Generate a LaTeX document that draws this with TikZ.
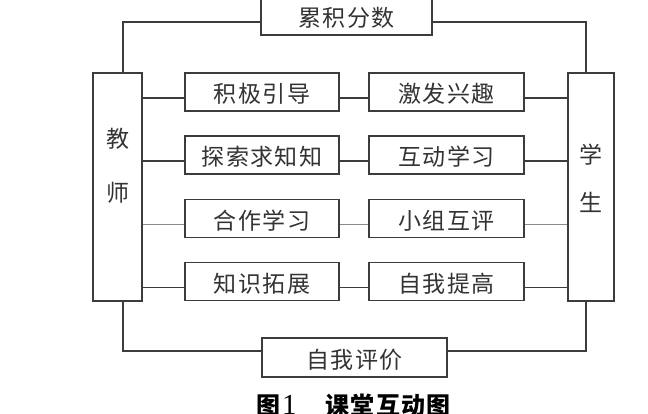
\documentclass[tikz,border=0pt]{standalone}
\usepackage{fontspec}
\newfontfamily\cjk[LetterSpace=6]{Noto Sans CJK SC}
\newfontfamily\cjkcap[LetterSpace=5]{Noto Sans CJK SC}
\newfontfamily\capdigit{Liberation Serif}
\definecolor{ln}{HTML}{3C3C3C}
\definecolor{lnlight}{HTML}{8A8A8A}
\begin{document}
\begin{tikzpicture}[x=1pt,y=-1pt,
  box/.style={draw=ln, line width=1.4pt, inner sep=0pt, font=\cjk\fontsize{23}{27}\selectfont, text=black!80,
     text height=22pt, text depth=0pt},
  cellbox/.style={box, minimum width=154pt, minimum height=38pt},
  sidebox/.style={draw=ln, line width=1.4pt, inner sep=0pt, minimum height=228pt},
  sidelabel/.style={text=black!80, align=center},
  conn/.style={draw=ln, line width=1.4pt},
  connlight/.style={draw=lnlight, line width=1.1pt},
  frame/.style={draw=ln, line width=1.1pt}
]
\fill[white] (0,0) rectangle (648,414);
\useasboundingbox (0,0) rectangle (648,414);

% side boxes
\node[sidebox, minimum width=49pt,
  label={[sidelabel, yshift=21pt, font=\cjk\fontsize{23}{54}\selectfont]center:教\\师}] (J) at (117.5,187) {};
\node[sidebox, minimum width=46pt,
  label={[sidelabel, yshift=9pt, font=\cjk\fontsize{23}{48}\selectfont]center:学\\生}] (S) at (591,187) {};

% top and bottom boxes
\node[box, minimum width=171pt, minimum height=39pt] (T) at (346.5,15.5) {累积分数};
\node[box, minimum width=185pt, minimum height=39pt] (B) at (354.5,357.5) {自我评价};

% left column
\node[cellbox] (L1) at (262,92) {积极引导};
\node[cellbox] (L2) at (262,155) {探索求知知};
\node[cellbox] (L3) at (262,218.5) {合作学习};
\node[cellbox] (L4) at (262,281.5) {知识拓展};
% right column
\node[cellbox, minimum width=155pt] (R1) at (446.5,92) {激发兴趣};
\node[cellbox, minimum width=155pt] (R2) at (446.5,155) {互动学习};
\node[cellbox, minimum width=155pt] (R3) at (446.5,218.5) {小组互评};
\node[cellbox, minimum width=155pt] (R4) at (446.5,281.5) {自我提高};

% connector anchor points (slightly below box centres)
\foreach \i in {1,...,4} {
  \coordinate (a\i) at ([yshift=-6pt]L\i.west);
  \coordinate (b\i) at ([yshift=-6pt]L\i.east);
  \coordinate (c\i) at ([yshift=-6pt]R\i.west);
  \coordinate (d\i) at ([yshift=-6pt]R\i.east);
}
\foreach \i in {1,2,4} {
  \draw[conn] (J.east |- a\i) -- (a\i);
  \draw[conn] (b\i) -- (c\i);
  \draw[conn] (d\i) -- (S.west |- d\i);
}
\draw[connlight] (J.east |- a3) -- (a3);
\draw[connlight] (b3) -- (c3);
\draw[connlight] (d3) -- (S.west |- d3);

% outer loop
\draw[frame] ([xshift=5.5pt]J.north) |- ([yshift=-6.5pt]T.west);
\draw[frame] ([yshift=-6.5pt]T.east) -| ([xshift=-5pt]S.north);
\draw[frame] ([xshift=5.5pt]J.south) |- ([yshift=6.5pt]B.west);
\draw[frame] ([yshift=6.5pt]B.east) -| ([xshift=-5pt]S.south);

% caption
\node[anchor=west, inner sep=0pt, font=\cjkcap\bfseries\fontsize{24}{28}\selectfont] (cap) at (256,405)
  {图\hspace{2pt}{\capdigit\mdseries\fontsize{29}{30}\selectfont 1}\hspace{29pt}课堂互动图};
\end{tikzpicture}
\end{document}
